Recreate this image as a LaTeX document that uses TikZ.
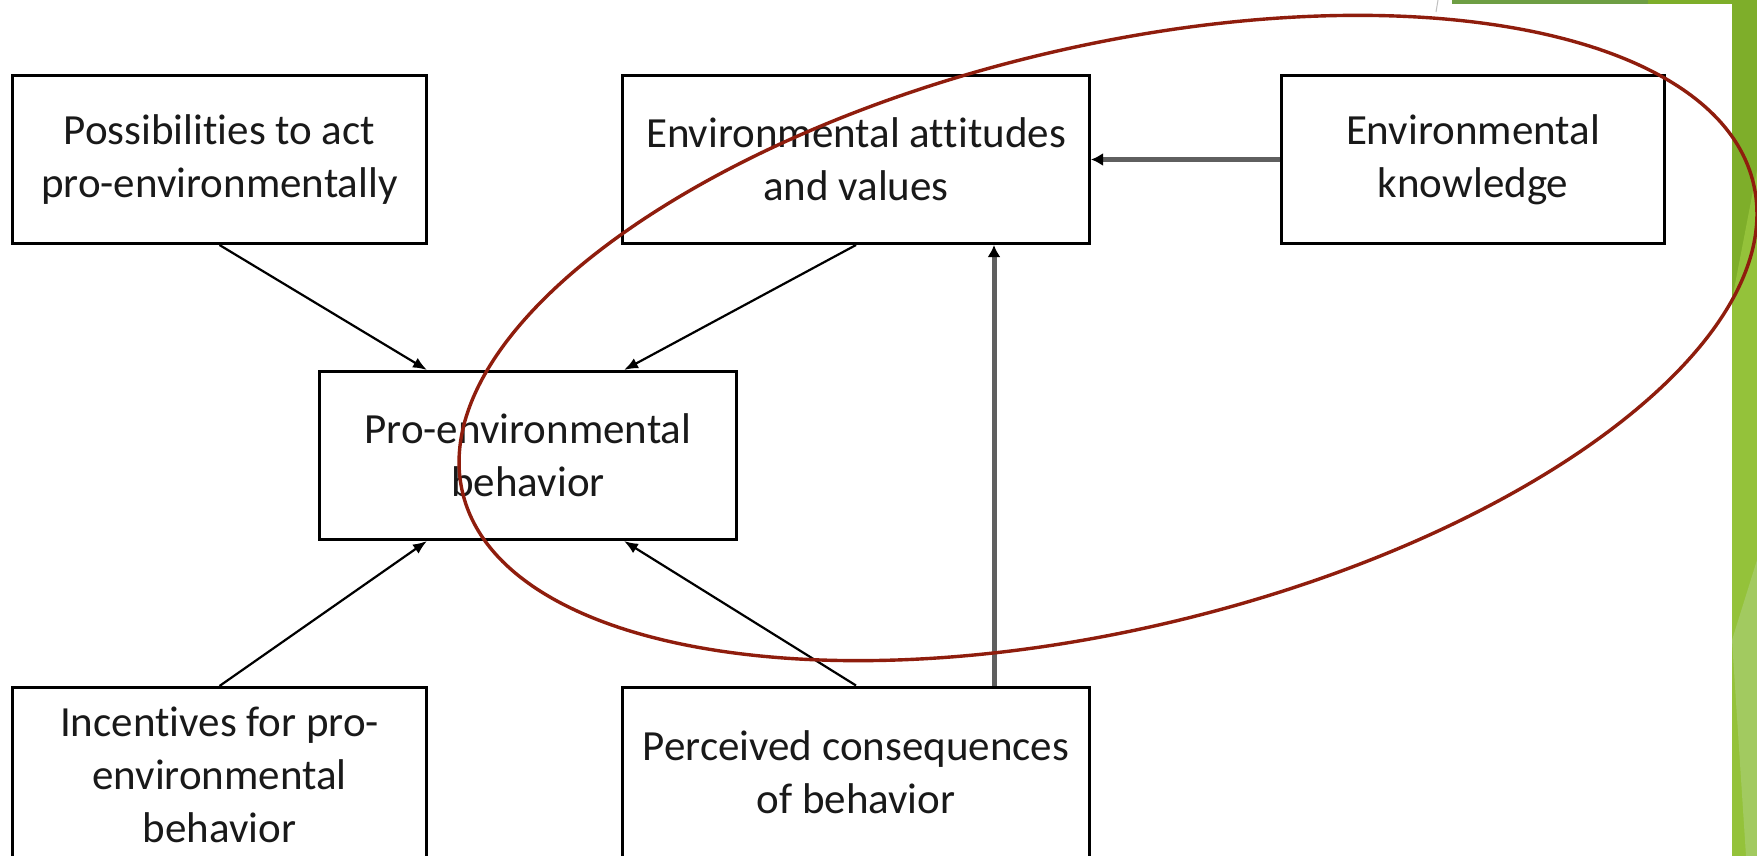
\documentclass[tikz,border=0pt]{standalone}
\usepackage{fontspec}
\setmainfont{Carlito}[Ligatures=NoCommon]
\usetikzlibrary{arrows.meta,calc}
\definecolor{ellred}{RGB}{143,29,13}
\definecolor{gline}{RGB}{95,95,95}
\definecolor{gA}{RGB}{126,174,42}
\definecolor{gB}{RGB}{148,194,58}
\definecolor{gC}{RGB}{162,202,96}
\definecolor{gTop}{RGB}{110,158,68}
\begin{document}
\begin{tikzpicture}[x=1pt,y=1pt,
  box/.style={draw=black, line width=3pt, fill=white, align=center, inner sep=0pt,
    text=black!90, font=\fontsize{43}{53}\selectfont},
  arr/.style={line width=2.2pt, -{Latex[length=14pt,width=11pt]}},
  garr/.style={draw=gline, line width=5pt, -{Latex[length=12pt,width=13pt,color=black]}}]
\useasboundingbox (0,0) rectangle (1757,-856);
\clip (0,0) rectangle (1757,-856);
\fill[white] (0,0) rectangle (1757,-856);
% green decoration
\fill[gA] (1732,0) rectangle (1757,-856);
\fill[gB] (1732,-300) -- (1757,-170) -- (1757,-856) -- (1732,-856) -- cycle;
\fill[gC] (1732,-640) -- (1757,-560) -- (1757,-856) -- (1746,-856) -- cycle;
\fill[gTop] (1452,0) rectangle (1648,-4);
\fill[gA] (1648,0) rectangle (1757,-4);
\draw[black!25, line width=1pt] (1438,0) -- (1436,-12);
% boxes
\node[box, minimum width=414pt, minimum height=168pt] (poss) at (219.5,-159.5) {Possibilities to act\\pro-environmentally};
\node[box, minimum width=467pt, minimum height=168pt] (att) at (856,-159.5) {Environmental attitudes\\and values};
\node[box, minimum width=383pt, minimum height=168pt] (know) at (1473,-159.5) {Environmental\\knowledge};
\node[box, minimum width=417pt, minimum height=168pt] (pro) at (528,-455.5) {Pro-environmental\\behavior};
\node[box, minimum width=414pt, minimum height=175pt] (inc) at (219.5,-775) {Incentives for pro-\\environmental\\behavior};
\node[box, minimum width=467pt, minimum height=171pt] (perc) at (856,-772.5) {Perceived consequences\\of behavior};
% connectors
\draw[arr] (poss.south) -- ([xshift=-101pt]pro.north);
\draw[arr] (att.south) -- ([xshift=96pt]pro.north);
\draw[arr] (inc.north) -- ([xshift=-101pt]pro.south);
\draw[arr] (perc.north) -- ([xshift=96pt]pro.south);
\draw[garr] ([xshift=138pt]perc.north) -- ([xshift=138pt]att.south);
\draw[garr] (know.west) -- (att.east);
% ellipse
\draw[ellred, line width=3.4pt, rotate around={13.5:(1108,-338)}] (1108,-338) ellipse [x radius=663.7pt, y radius=291pt];
\end{tikzpicture}
\end{document}
